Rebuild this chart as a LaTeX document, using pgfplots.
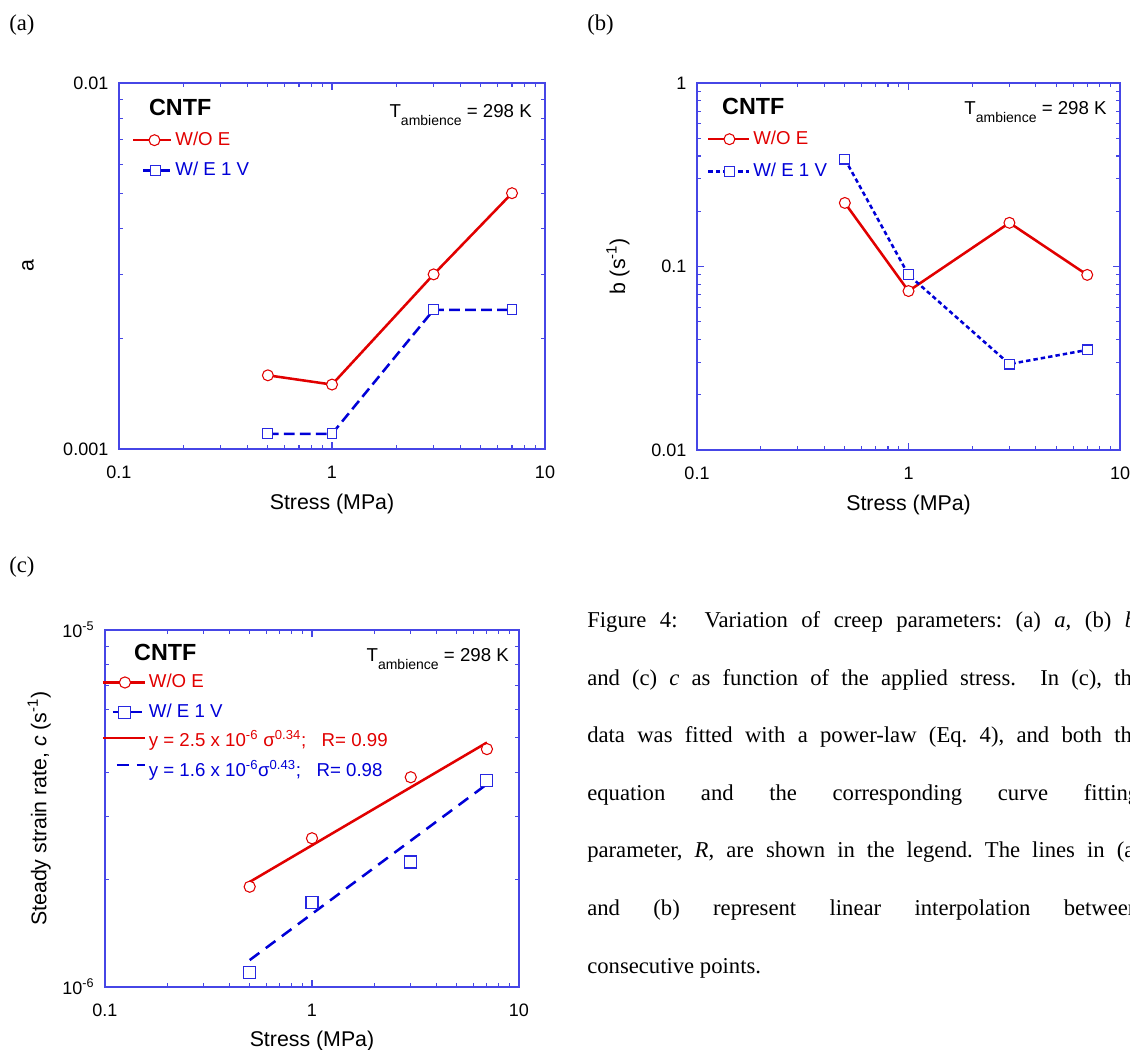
\documentclass[border=0pt]{standalone}
\usepackage{fontspec}
\setmainfont{Liberation Sans}
\newfontfamily\tnr{Liberation Serif}
\usepackage{pgfplots}
\pgfplotsset{compat=1.18}
\definecolor{myred}{RGB}{225,0,0}
\definecolor{myblue}{RGB}{0,0,215}
\definecolor{mkblue}{RGB}{40,40,225}
\definecolor{framecol}{RGB}{70,70,230}

\pgfplotsset{
  redser/.style={color=myred, line width=1.9pt, mark=*, mark size=4.1pt,
        mark options={solid, fill=white, draw=myred, line width=0.8pt}},
  blueser/.style={color=myblue, line width=1.9pt, mark=square*, mark size=3.7pt,
        mark options={solid, fill=white, draw=mkblue, line width=0.8pt}},
  leg/.style n args={3}{legend image code/.code={\path (0pt,0pt); \draw[mark repeat=2,mark phase=2,##1] plot coordinates {(#1,0pt) (#2,0pt) (#3,0pt)};}},
}

\begin{document}
\begin{tikzpicture}
% ---------------- panel (a)
\begin{loglogaxis}[at={(89.25pt,450pt)}, anchor=south west,
  scale only axis, width=319.5pt, height=274.5pt,
  xmin=0.1, xmax=10,
  axis line style={framecol, line width=1.1pt},
  every tick/.style={framecol, line width=0.8pt},
  major tick length=5.5pt, minor tick length=3pt,
  tick align=inside,
  xtick={0.1,1,10}, xticklabels={0.1,1,10},
  minor xtick={0.2,0.3,0.4,0.5,0.6,0.7,0.8,0.9,2,3,4,5,6,7,8,9},
  tick label style={font=\fontsize{13.5}{13.5}\selectfont},
  xticklabel style={yshift=-9pt},
  yticklabel style={xshift=-4.5pt},
  label style={font=\fontsize{16}{16}\selectfont},
  xlabel={Stress (MPa)},
  legend cell align=left,
  legend style={draw=none, fill=none, inner sep=0pt, outer sep=0pt, anchor=north west,
      font=\fontsize{14}{14}\selectfont, row sep=7.25pt, column sep=1pt,
      nodes={inner sep=1pt, text height=10.5pt, text depth=3pt},
      at={(axis description cs:0.031,0.872)}},
  ymin=0.001, ymax=0.01,
  ytick={0.001,0.01}, yticklabels={0.001,0.01},
  minor ytick={0.002,0.003,0.004,0.005,0.006,0.007,0.008,0.009},
  ylabel={a},
  ylabel style={at={(axis description cs:-0.2136,0.5)}, anchor=center},
  xlabel style={at={(axis description cs:0.5,-0.150)}, anchor=center},
]
\addplot[redser, leg={0pt}{15.75pt}{28.5pt}]
  coordinates {(0.5,0.00159) (1,0.00150) (3,0.00300) (7,0.00500)};
\addlegendentry{\textcolor{myred}{W/O E}}
\addplot[blueser, dash pattern=on 8pt off 4pt, leg={7.5pt}{16.5pt}{28.5pt}]
  coordinates {(0.5,0.00110) (1,0.00110) (3,0.00240) (7,0.00240)};
\addlegendentry{\textcolor{myblue}{W/ E 1 V}}
\node[anchor=west, inner sep=0pt, font=\bfseries\fontsize{17.5}{17.5}\selectfont] at (rel axis cs:0.070,0.932) {CNTF};
\node[anchor=base east, inner sep=0pt, font=\fontsize{14}{14}\selectfont] at (rel axis cs:0.9695,0.907) {T\raisebox{-6pt}{\fontsize{10.5}{10.5}\selectfont ambience} = 298 K};
\end{loglogaxis}

% ---------------- panel (b)
\begin{loglogaxis}[at={(522.75pt,449.25pt)}, anchor=south west,
  scale only axis, width=317.25pt, height=275.25pt,
  xmin=0.1, xmax=10,
  axis line style={framecol, line width=1.1pt},
  every tick/.style={framecol, line width=0.8pt},
  major tick length=5.5pt, minor tick length=3pt,
  tick align=inside,
  xtick={0.1,1,10}, xticklabels={0.1,1,10},
  minor xtick={0.2,0.3,0.4,0.5,0.6,0.7,0.8,0.9,2,3,4,5,6,7,8,9},
  tick label style={font=\fontsize{13.5}{13.5}\selectfont},
  xticklabel style={yshift=-9pt},
  yticklabel style={xshift=-4.5pt},
  label style={font=\fontsize{16}{16}\selectfont},
  xlabel={Stress (MPa)},
  legend cell align=left,
  legend style={draw=none, fill=none, inner sep=0pt, outer sep=0pt, anchor=north west,
      font=\fontsize{14}{14}\selectfont, row sep=8.75pt, column sep=1pt,
      nodes={inner sep=1pt, text height=10.5pt, text depth=3pt},
      at={(axis description cs:0.024,0.875)}},
  ymin=0.01, ymax=1,
  ytick={0.01,0.1,1}, yticklabels={0.01,0.1,1},
  minor ytick={0.02,0.03,0.04,0.05,0.06,0.07,0.08,0.09,0.2,0.3,0.4,0.5,0.6,0.7,0.8,0.9},
  ylabel={b (s\textsuperscript{-1})},
  ylabel style={at={(axis description cs:-0.187,0.5)}, anchor=center},
  xlabel style={at={(axis description cs:0.5,-0.150)}, anchor=center},
]
\addplot[redser, leg={0pt}{15.75pt}{30.75pt}]
  coordinates {(0.5,0.222) (1,0.0735) (3,0.173) (7,0.090)};
\addlegendentry{\textcolor{myred}{W/O E}}
\addplot[blueser, dash pattern=on 3.3pt off 2.3pt, leg={0pt}{15.75pt}{30.75pt}]
  coordinates {(0.5,0.385) (1,0.090) (3,0.0294) (7,0.0351)};
\addlegendentry{\textcolor{myblue}{W/ E 1 V}}
\node[anchor=west, inner sep=0pt, font=\bfseries\fontsize{17.5}{17.5}\selectfont] at (rel axis cs:0.059,0.937) {CNTF};
\node[anchor=base east, inner sep=0pt, font=\fontsize{14}{14}\selectfont] at (rel axis cs:0.969,0.913) {T\raisebox{-6pt}{\fontsize{10.5}{10.5}\selectfont ambience} = 298 K};
\end{loglogaxis}

% ---------------- panel (c)
\begin{loglogaxis}[at={(78.75pt,46.5pt)}, anchor=south west,
  scale only axis, width=310.5pt, height=267.75pt,
  xmin=0.1, xmax=10,
  axis line style={framecol, line width=1.1pt},
  every tick/.style={framecol, line width=0.8pt},
  major tick length=5.5pt, minor tick length=3pt,
  tick align=inside,
  xtick={0.1,1,10}, xticklabels={0.1,1,10},
  minor xtick={0.2,0.3,0.4,0.5,0.6,0.7,0.8,0.9,2,3,4,5,6,7,8,9},
  tick label style={font=\fontsize{13.5}{13.5}\selectfont},
  xticklabel style={yshift=-9pt},
  yticklabel style={xshift=-4.5pt},
  label style={font=\fontsize{16}{16}\selectfont},
  xlabel={Stress (MPa)},
  legend cell align=left,
  legend style={draw=none, fill=none, inner sep=0pt, outer sep=0pt, anchor=north west,
      font=\fontsize{14}{14}\selectfont, row sep=6.75pt, column sep=1pt,
      nodes={inner sep=1pt, text height=10.5pt, text depth=3pt},
      at={(axis description cs:-0.008,0.882)}},
  ymin=1e-6, ymax=1e-5,
  ytick={1e-6,1e-5}, yticklabels={10\textsuperscript{-6},10\textsuperscript{-5}},
  minor ytick={2e-6,3e-6,4e-6,5e-6,6e-6,7e-6,8e-6,9e-6},
  ylabel={Steady strain rate, \textit{c} (s\textsuperscript{-1})},
  ylabel style={at={(axis description cs:-0.159,0.5)}, anchor=center},
  xlabel style={at={(axis description cs:0.5,-0.150)}, anchor=center},
]
\addplot[redser, only marks, mark size=4.2pt, legend image code/.code={\draw[sharp plot, myred, line width=1.9pt, mark=*, mark size=4.2pt, mark options={solid, fill=white, draw=myred, line width=0.8pt}, mark repeat=2, mark phase=2] plot coordinates {(0pt,0pt) (16.5pt,0pt) (31.5pt,0pt)};}]
  coordinates {(0.5,1.91e-6) (1,2.61e-6) (3,3.87e-6) (7,4.64e-6)};
\addlegendentry{\textcolor{myred}{W/O E}}
\addplot[blueser, only marks, mark size=4.5pt, legend image code/.code={\path (0pt,0pt); \draw[sharp plot, myblue, line width=1.9pt, mark=square*, mark size=4.5pt, mark options={solid, fill=white, draw=mkblue, line width=0.8pt}, mark repeat=2, mark phase=2] plot coordinates {(7.5pt,0pt) (16.5pt,0pt) (29.25pt,0pt)};}]
  coordinates {(0.5,1.10e-6) (1,1.72e-6) (3,2.24e-6) (7,3.78e-6)};
\addlegendentry{\textcolor{myblue}{W/ E 1 V}}
\addplot[myred, line width=1.9pt, legend image code/.code={\draw[myred, line width=1.9pt] (0pt,3pt) -- (31.5pt,3pt);}]
  coordinates {(0.5,1.97e-6) (7,4.84e-6)};
\addlegendentry{\textcolor{myred}{y = 2.5 x 10\textsuperscript{-6} σ\textsuperscript{0.34};\ \ \ R= 0.99}}
\addplot[myblue, line width=1.9pt, dash pattern=on 9pt off 6pt, legend image code/.code={\path (0pt,0pt); \draw[myblue, line width=1.9pt, dash pattern=on 9pt off 6pt] (10.5pt,5pt) -- (31.5pt,5pt);}]
  coordinates {(0.5,1.19e-6) (7,3.70e-6)};
\addlegendentry{\textcolor{myblue}{y = 1.6 x 10\textsuperscript{-6}σ\textsuperscript{0.43};\ \ \ R= 0.98}}
\node[anchor=west, inner sep=0pt, font=\bfseries\fontsize{17.5}{17.5}\selectfont] at (rel axis cs:0.070,0.936) {CNTF};
\node[anchor=base east, inner sep=0pt, font=\fontsize{14}{14}\selectfont] at (rel axis cs:0.976,0.913) {T\raisebox{-6pt}{\fontsize{10.5}{10.5}\selectfont ambience} = 298 K};
\end{loglogaxis}

% ---------------- panel letters and caption
\begin{scope}[every node/.style={inner sep=0pt, anchor=base west, font=\tnr\fontsize{17}{17}\selectfont\frenchspacing}]
\node at (6.75pt,763.5pt) {(a)};
\node at (440.25pt,763.5pt) {(b)};
\node at (6.75pt,357pt) {(c)};
\node at (440.25pt,315.75pt) {\makebox[416pt][s]{Figure 4:\ \ Variation of creep parameters: (a) \textit{a,} (b) \textit{b},}};
\node at (440.25pt,272.625pt) {\makebox[416pt][s]{and (c) \textit{c} as function of the applied stress.\ \ In (c), the}};
\node at (440.25pt,229.5pt) {\makebox[416pt][s]{data was fitted with a power-law (Eq.~4), and both the}};
\node at (440.25pt,186.375pt) {\makebox[414pt][s]{equation and the corresponding curve fitting}};
\node at (440.25pt,143.25pt) {\makebox[416pt][s]{parameter, \textit{R}, are shown in the legend. The lines in (a)}};
\node at (440.25pt,100.125pt) {\makebox[414pt][s]{and (b) represent linear interpolation between}};
\node at (440.25pt,57pt) {consecutive points.};
\end{scope}
\pgfresetboundingbox
\useasboundingbox (0,0) rectangle (847.5pt,786.75pt);
\end{tikzpicture}
\end{document}
